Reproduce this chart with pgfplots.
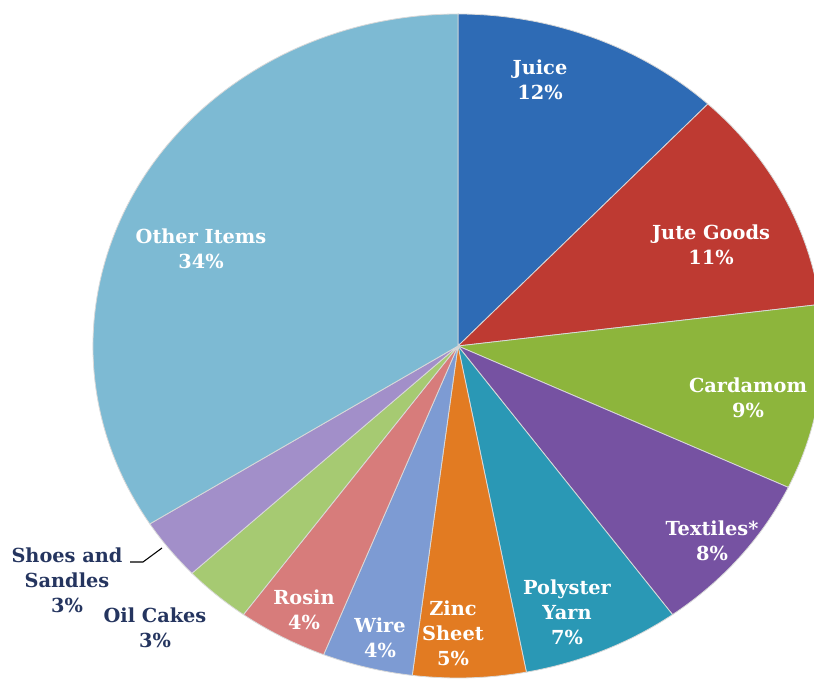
\documentclass[border=0pt]{standalone}
\usepackage{pgfplots}
\pgfplotsset{compat=1.18}
\usepackage{pgfplotstable}
\usepackage{fontspec}
\newfontfamily\lblfont{DejaVu Serif}

\definecolor{cJuice}{HTML}{2E6BB5}
\definecolor{cJute}{HTML}{BE3A32}
\definecolor{cCard}{HTML}{8DB53C}
\definecolor{cText}{HTML}{7652A2}
\definecolor{cPoly}{HTML}{2A98B5}
\definecolor{cZinc}{HTML}{E27B22}
\definecolor{cWire}{HTML}{7D9BD3}
\definecolor{cRosin}{HTML}{D77C7B}
\definecolor{cOil}{HTML}{A6CA72}
\definecolor{cShoe}{HTML}{A28FC9}
\definecolor{cOther}{HTML}{7DBAD3}
\definecolor{navy}{HTML}{25355F}

% share of each item, clockwise from 12 o'clock
\pgfplotstableread{
value color
12 cJuice
11 cJute
9  cCard
8  cText
7  cPoly
5  cZinc
4  cWire
4  cRosin
3  cOil
3  cShoe
34 cOther
}\piedata

\newcommand\lbl{\lblfont\bfseries\fontsize{14.5}{18.75}\selectfont}

\begin{document}
\begin{tikzpicture}
\path[use as bounding box] (0,0) rectangle (610.5pt,509.25pt);
\begin{axis}[
  at={(0,0)}, anchor=south west,
  x=0.75pt, y=0.75pt,
  xmin=0, xmax=814, ymin=0, ymax=679,
  hide axis, clip=true]
\pgfplotstablegetrowsof{\piedata}
\pgfmathtruncatemacro\N{\pgfplotsretval-1}
\def\cum{0}
\pgfplotsforeachungrouped \i in {0,...,\N}{%
  \pgfplotstablegetelem{\i}{value}\of\piedata \let\v\pgfplotsretval
  \pgfplotstablegetelem{\i}{color}\of\piedata \let\c\pgfplotsretval
  \pgfmathsetmacro\a{90-3.6*\cum}%
  \pgfmathsetmacro\b{90-3.6*(\cum+\v)}%
  \pgfmathsetmacro\cum{\cum+\v}%
  \edef\temp{\noexpand\fill[\c, draw=white!85!black, line width=0.6pt]
    (axis cs:458,333) -- ++(\a:273.75pt and 249pt)
    arc[start angle=\a, end angle=\b, x radius=273.75pt, y radius=249pt] -- cycle;}%
  \temp
}

\begin{scope}[every node/.style={align=center, font=\lbl, text=white, inner sep=0pt}]
\node at (axis cs:540,599) {Juice\\12\%};
\node at (axis cs:711,434.5) {Jute Goods\\11\%};
\node at (axis cs:748,281.5) {Cardamom\\9\%};
\node at (axis cs:712,138.5) {Textiles*\\8\%};
\node at (axis cs:567,67) {Polyster\\Yarn\\7\%};
\node at (axis cs:453,46) {Zinc\\Sheet\\5\%};
\node at (axis cs:380,41.5) {Wire\\4\%};
\node at (axis cs:304,69) {Rosin\\4\%};
\node at (axis cs:201,430) {Other Items\\34\%};
\node[text=navy] at (axis cs:67,99) {Shoes and\\Sandles\\3\%};
\node[text=navy] at (axis cs:155,51.5) {Oil Cakes\\3\%};
\end{scope}
\draw[black, line width=0.8pt] (axis cs:130,117) -- (axis cs:143,117) -- (axis cs:162,131);
\end{axis}
\end{tikzpicture}
\end{document}
